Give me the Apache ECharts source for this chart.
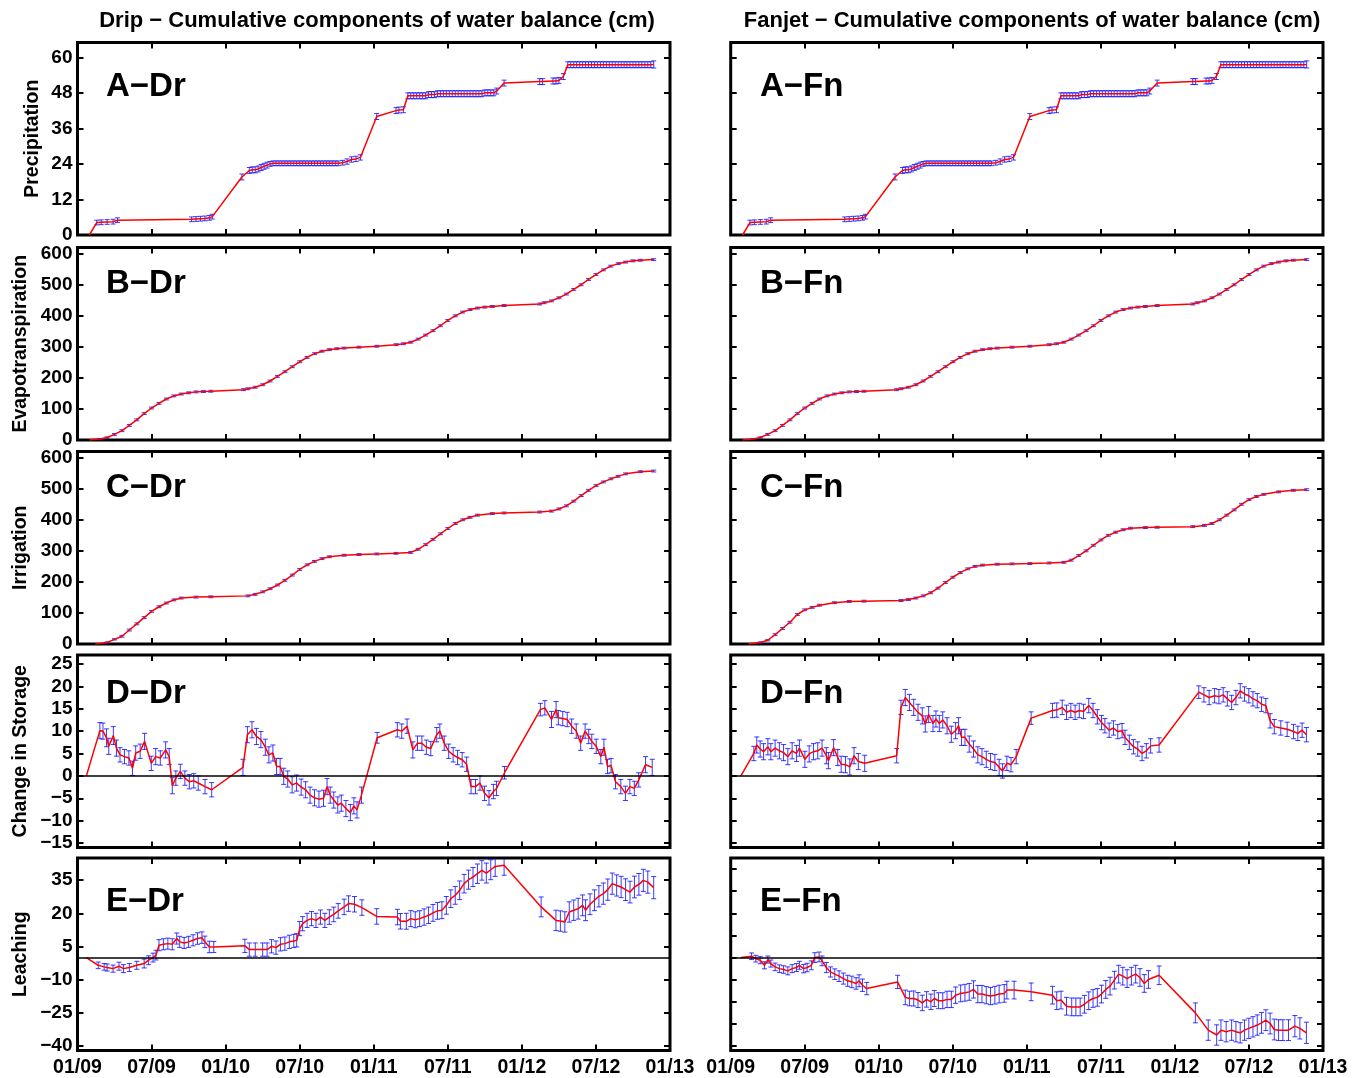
<!DOCTYPE html>
<html>
<head>
<meta charset="utf-8">
<title>Cumulative components of water balance</title>
<script src="https://cdn.jsdelivr.net/npm/echarts@6/dist/echarts.min.js"></script>
<style>
  html, body { margin: 0; padding: 0; background: #fff; }
  #chart { width: 1369px; height: 1078px; }
</style>
</head>
<body>
<div id="chart"></div>
<script>
// ---- Data: [decimal year, cumulative value (cm), standard deviation (cm)] ----

// Precipitation is common to both irrigation systems
const precipitation = [
  [2009.08, 0, 0],
  [2009.13, 4.2, 0.8], [2009.16, 4.3, 0.8], [2009.20, 4.4, 0.8], [2009.24, 4.5, 0.8], [2009.27, 5.0, 0.8],
  [2009.77, 5.3, 0.8], [2009.80, 5.4, 0.8], [2009.83, 5.5, 0.8], [2009.86, 5.6, 0.8], [2009.89, 5.8, 0.8], [2009.91, 6.2, 0.8],
  [2010.11, 19.6, 1.0], [2010.16, 21.8, 1.0], [2010.18, 22.0, 1.0], [2010.20, 22.0, 1.0], [2010.22, 22.3, 1.0],
  [2010.24, 22.8, 1.0], [2010.26, 23.2, 1.0], [2010.28, 23.6, 1.0], [2010.30, 24.0, 0.8],
  [2010.32, 24.2, 0.8], [2010.34, 24.2, 0.8], [2010.36, 24.2, 0.8], [2010.38, 24.2, 0.8], [2010.40, 24.2, 0.8],
  [2010.42, 24.2, 0.8], [2010.44, 24.2, 0.8], [2010.46, 24.2, 0.8], [2010.48, 24.2, 0.8], [2010.50, 24.2, 0.8],
  [2010.52, 24.2, 0.8], [2010.54, 24.2, 0.8], [2010.56, 24.2, 0.8], [2010.58, 24.2, 0.8], [2010.60, 24.2, 0.8],
  [2010.62, 24.2, 0.8], [2010.64, 24.2, 0.8], [2010.66, 24.2, 0.8], [2010.68, 24.2, 0.8], [2010.70, 24.2, 0.8],
  [2010.72, 24.2, 0.8], [2010.74, 24.2, 0.8], [2010.76, 24.2, 0.8],
  [2010.79, 24.4, 0.8], [2010.82, 24.8, 0.9], [2010.85, 25.5, 0.9], [2010.88, 25.7, 0.9], [2010.91, 26.2, 0.9],
  [2011.02, 40.0, 1.0],
  [2011.15, 42.0, 1.0], [2011.17, 42.2, 1.0], [2011.20, 42.3, 1.0],
  [2011.23, 47.0, 1.0], [2011.25, 47.0, 1.0], [2011.27, 47.0, 1.0], [2011.29, 47.0, 1.0], [2011.31, 47.0, 1.0],
  [2011.33, 47.0, 1.0], [2011.35, 47.0, 1.0], [2011.37, 47.4, 1.0], [2011.39, 47.4, 1.0], [2011.41, 47.4, 1.0],
  [2011.43, 47.7, 1.0], [2011.45, 47.7, 1.0], [2011.47, 47.7, 1.0], [2011.49, 47.7, 1.0], [2011.51, 47.7, 1.0],
  [2011.53, 47.7, 1.0], [2011.55, 47.7, 1.0], [2011.57, 47.7, 1.0], [2011.59, 47.7, 1.0], [2011.61, 47.7, 1.0],
  [2011.63, 47.7, 1.0], [2011.65, 47.7, 1.0], [2011.67, 47.7, 1.0], [2011.69, 47.7, 1.0], [2011.71, 47.7, 1.0],
  [2011.73, 47.7, 1.0], [2011.75, 48.0, 1.0], [2011.77, 48.0, 1.0], [2011.79, 48.0, 1.0], [2011.81, 48.0, 1.0],
  [2011.83, 48.6, 1.0], [2011.88, 51.3, 1.0],
  [2012.12, 51.8, 1.0], [2012.14, 51.8, 1.0], [2012.21, 52.0, 1.0], [2012.23, 52.0, 1.0], [2012.25, 52.2, 1.0],
  [2012.28, 53.5, 1.0],
  [2012.31, 57.5, 1.0], [2012.33, 57.5, 1.0], [2012.35, 57.5, 1.0], [2012.37, 57.5, 1.0], [2012.39, 57.5, 1.0],
  [2012.41, 57.5, 1.0], [2012.43, 57.5, 1.0], [2012.45, 57.5, 1.0], [2012.47, 57.5, 1.0], [2012.49, 57.5, 1.0],
  [2012.51, 57.5, 1.0], [2012.53, 57.5, 1.0], [2012.55, 57.5, 1.0], [2012.57, 57.5, 1.0], [2012.59, 57.5, 1.0],
  [2012.61, 57.5, 1.0], [2012.63, 57.5, 1.0], [2012.65, 57.5, 1.0], [2012.67, 57.5, 1.0], [2012.69, 57.5, 1.0],
  [2012.71, 57.5, 1.0], [2012.73, 57.5, 1.0], [2012.75, 57.5, 1.0], [2012.77, 57.5, 1.0], [2012.79, 57.5, 1.0],
  [2012.81, 57.5, 1.0], [2012.83, 57.5, 1.0], [2012.85, 57.5, 1.0], [2012.87, 57.5, 1.0], [2012.89, 57.6, 1.2]
];

// Evapotranspiration is common to both irrigation systems
const evapotranspiration = [
  [2009.08, 0, 0], [2009.15, 3, 2], [2009.20, 8, 2], [2009.25, 18, 3], [2009.30, 30, 3], [2009.35, 47, 3],
  [2009.40, 65, 3], [2009.45, 85, 3], [2009.50, 103, 3], [2009.55, 118, 3], [2009.60, 132, 3], [2009.65, 142, 3],
  [2009.70, 148, 3], [2009.75, 152, 3], [2009.80, 155, 3], [2009.85, 156, 3], [2009.90, 157, 3],
  [2010.12, 162, 3], [2010.15, 165, 3], [2010.20, 170, 3], [2010.25, 178, 3], [2010.30, 190, 3], [2010.35, 205, 3],
  [2010.40, 220, 3], [2010.45, 236, 3], [2010.50, 252, 3], [2010.55, 266, 3], [2010.60, 278, 3], [2010.65, 286, 3],
  [2010.70, 291, 3], [2010.75, 294, 3], [2010.80, 296, 3], [2010.90, 299, 3],
  [2011.02, 302, 3], [2011.15, 307, 3], [2011.20, 310, 3], [2011.25, 315, 3], [2011.30, 325, 3], [2011.35, 338, 3],
  [2011.40, 352, 3], [2011.45, 368, 3], [2011.50, 385, 3], [2011.55, 400, 3], [2011.60, 412, 3], [2011.65, 420, 3],
  [2011.70, 425, 3], [2011.75, 428, 3], [2011.80, 430, 3], [2011.88, 433, 3],
  [2012.12, 438, 3], [2012.15, 442, 3], [2012.20, 448, 3], [2012.25, 458, 3], [2012.30, 470, 3], [2012.35, 485, 3],
  [2012.40, 500, 3], [2012.45, 517, 3], [2012.50, 533, 3], [2012.55, 548, 3], [2012.60, 560, 3], [2012.65, 568, 3],
  [2012.70, 573, 3], [2012.75, 577, 3], [2012.80, 579, 3], [2012.89, 581, 3]
];

const irrigationDrip = [
  [2009.12, 0, 0], [2009.20, 5, 2], [2009.25, 15, 2], [2009.30, 25, 3], [2009.35, 45, 3], [2009.40, 65, 3],
  [2009.45, 85, 3], [2009.50, 105, 3], [2009.55, 120, 3], [2009.60, 132, 3], [2009.65, 142, 3], [2009.70, 148, 3],
  [2009.80, 151, 3], [2009.90, 152, 3],
  [2010.15, 155, 3], [2010.20, 160, 3], [2010.25, 168, 3], [2010.30, 178, 3], [2010.35, 190, 3], [2010.40, 205, 3],
  [2010.45, 222, 3], [2010.50, 240, 3], [2010.55, 255, 3], [2010.60, 266, 3], [2010.65, 275, 3], [2010.70, 281, 3],
  [2010.80, 286, 3], [2010.90, 288, 3],
  [2011.02, 290, 3], [2011.15, 292, 3], [2011.25, 295, 3], [2011.30, 305, 3], [2011.35, 320, 3], [2011.40, 337, 3],
  [2011.45, 355, 3], [2011.50, 372, 3], [2011.55, 388, 3], [2011.60, 400, 3], [2011.65, 408, 3], [2011.70, 415, 3],
  [2011.80, 420, 3], [2011.88, 422, 3],
  [2012.12, 425, 3], [2012.20, 428, 3], [2012.25, 435, 3], [2012.30, 445, 3], [2012.35, 460, 3], [2012.40, 478, 3],
  [2012.45, 495, 3], [2012.50, 510, 3], [2012.55, 522, 3], [2012.60, 532, 3], [2012.65, 540, 3], [2012.70, 548, 3],
  [2012.80, 555, 3], [2012.89, 557, 3]
];

const irrigationFanjet = [
  [2009.12, 0, 0], [2009.20, 5, 2], [2009.25, 12, 2], [2009.30, 30, 3], [2009.35, 50, 3], [2009.40, 70, 3],
  [2009.45, 95, 3], [2009.50, 110, 3], [2009.55, 118, 3], [2009.60, 125, 3], [2009.70, 133, 3], [2009.80, 137, 3],
  [2009.90, 138, 3],
  [2010.15, 140, 3], [2010.20, 143, 3], [2010.25, 148, 3], [2010.30, 155, 3], [2010.35, 165, 3], [2010.40, 180, 3],
  [2010.45, 198, 3], [2010.50, 215, 3], [2010.55, 230, 3], [2010.60, 242, 3], [2010.65, 250, 3], [2010.70, 254, 3],
  [2010.80, 257, 3], [2010.90, 258, 3],
  [2011.02, 259, 3], [2011.15, 261, 3], [2011.25, 263, 3], [2011.30, 270, 3], [2011.35, 285, 3], [2011.40, 300, 3],
  [2011.45, 318, 3], [2011.50, 335, 3], [2011.55, 350, 3], [2011.60, 360, 3], [2011.65, 368, 3], [2011.70, 373, 3],
  [2011.80, 375, 3], [2011.88, 376, 3],
  [2012.12, 378, 3], [2012.20, 382, 3], [2012.25, 388, 3], [2012.30, 400, 3], [2012.35, 415, 3], [2012.40, 432, 3],
  [2012.45, 450, 3], [2012.50, 465, 3], [2012.55, 475, 3], [2012.60, 482, 3], [2012.70, 490, 3], [2012.80, 495, 3],
  [2012.89, 497, 3]
];

const storageDrip = [
  [2009.06, 0, 0],
  [2009.151, 10.1, 1.8], [2009.172, 10.0, 1.8], [2009.196, 8.5, 2.0], [2009.211, 6.6, 1.8], [2009.242, 9.0, 2.0],
  [2009.263, 6.2, 1.8], [2009.287, 4.7, 1.6], [2009.317, 4.3, 1.6], [2009.347, 4.0, 1.6], [2009.371, 1.7, 1.6],
  [2009.393, 5.1, 1.6], [2009.423, 5.5, 1.6], [2009.453, 7.7, 1.8], [2009.498, 2.8, 1.6], [2009.528, 4.3, 1.8],
  [2009.559, 4.0, 1.6], [2009.595, 5.8, 1.8], [2009.619, 4.3, 1.8], [2009.640, -2.2, 1.8], [2009.664, -0.5, 1.6],
  [2009.694, 1.0, 1.6], [2009.725, -0.5, 1.6], [2009.755, -1.3, 1.6], [2009.785, -1.1, 1.6], [2009.815, -1.6, 1.6],
  [2009.861, -2.4, 1.6], [2009.906, -3.1, 1.6],
  [2010.117, 1.9, 1.8], [2010.147, 9.2, 1.8], [2010.178, 10.3, 1.8], [2010.208, 8.8, 1.8], [2010.238, 8.1, 1.8],
  [2010.268, 6.4, 1.8], [2010.292, 4.7, 1.8], [2010.319, 5.1, 1.8], [2010.344, 2.1, 1.8], [2010.368, 2.1, 1.8],
  [2010.392, -0.1, 1.8], [2010.419, -0.7, 1.8], [2010.449, -2.0, 1.8], [2010.479, -1.6, 1.8], [2010.510, -2.5, 1.8],
  [2010.540, -3.1, 1.8], [2010.570, -4.3, 1.8], [2010.600, -4.9, 1.8], [2010.630, -5.2, 1.8], [2010.661, -5.0, 1.8],
  [2010.685, -2.4, 1.8], [2010.706, -4.3, 1.8], [2010.730, -5.4, 1.8], [2010.757, -6.5, 1.8], [2010.781, -6.1, 1.8],
  [2010.812, -7.3, 1.8], [2010.842, -8.2, 1.8], [2010.866, -6.7, 1.8], [2010.887, -7.6, 1.8], [2010.917, -4.3, 1.8],
  [2011.023, 8.5, 1.2],
  [2011.159, 10.3, 1.6], [2011.189, 10.0, 1.6], [2011.225, 11.1, 1.6], [2011.264, 5.8, 1.8], [2011.295, 7.3, 1.6],
  [2011.325, 7.3, 1.6], [2011.355, 6.4, 1.6], [2011.385, 6.1, 1.6], [2011.425, 9.2, 1.6], [2011.446, 10.0, 1.6],
  [2011.476, 7.3, 1.6], [2011.506, 5.5, 1.6], [2011.536, 4.7, 1.6], [2011.566, 4.1, 1.6], [2011.597, 3.6, 1.6],
  [2011.627, 2.6, 1.6], [2011.657, -2.4, 1.6], [2011.687, -2.4, 1.6], [2011.717, -1.6, 1.6], [2011.748, -3.9, 1.6],
  [2011.778, -4.9, 1.6], [2011.808, -3.5, 1.6], [2011.829, -2.8, 1.6], [2011.883, 0.7, 1.4],
  [2012.125, 14.8, 1.4], [2012.155, 15.2, 1.6], [2012.200, 12.6, 1.8], [2012.231, 14.8, 1.8], [2012.246, 13.0, 1.6],
  [2012.276, 12.8, 1.6], [2012.306, 12.6, 1.6], [2012.336, 11.1, 1.6], [2012.367, 10.0, 1.6], [2012.397, 7.3, 1.6],
  [2012.427, 10.0, 1.6], [2012.451, 8.8, 1.6], [2012.472, 7.7, 1.6], [2012.502, 6.6, 1.6], [2012.533, 4.3, 1.6],
  [2012.554, 6.4, 1.8], [2012.578, 2.1, 1.6], [2012.602, 2.3, 1.6], [2012.632, -1.3, 1.6], [2012.668, -2.4, 1.6],
  [2012.699, -3.9, 1.6], [2012.729, -2.4, 1.6], [2012.759, -2.8, 1.6], [2012.789, -0.9, 1.6], [2012.835, 2.5, 1.8],
  [2012.880, 1.9, 1.8]
];

const storageFanjet = [
  [2009.069, 0, 0],
  [2009.156, 5.0, 1.6], [2009.176, 6.9, 1.8], [2009.199, 6.0, 1.8], [2009.222, 5.4, 1.8], [2009.251, 6.5, 1.8],
  [2009.271, 5.4, 1.8], [2009.300, 6.2, 1.8], [2009.329, 5.6, 1.8], [2009.357, 5.2, 1.8], [2009.386, 4.3, 1.8],
  [2009.415, 5.6, 1.8], [2009.444, 5.0, 1.8], [2009.464, 6.2, 1.8], [2009.501, 3.7, 1.8], [2009.530, 4.9, 1.8],
  [2009.559, 5.4, 1.8], [2009.588, 5.6, 1.8], [2009.617, 6.2, 1.8], [2009.646, 4.5, 1.8], [2009.660, 3.4, 1.8],
  [2009.695, 6.3, 1.8], [2009.723, 4.1, 1.8], [2009.746, 2.6, 1.8], [2009.775, 2.5, 1.8], [2009.804, 2.0, 1.8],
  [2009.833, 4.5, 1.8], [2009.862, 3.2, 1.8], [2009.905, 2.8, 1.8],
  [2010.121, 4.5, 1.6], [2010.150, 15.3, 1.6], [2010.179, 17.5, 1.8], [2010.207, 16.4, 1.8], [2010.236, 15.3, 1.8],
  [2010.265, 14.2, 1.8], [2010.294, 13.4, 1.8], [2010.314, 11.6, 1.8], [2010.337, 13.7, 1.8], [2010.366, 11.7, 1.8],
  [2010.386, 12.7, 1.8], [2010.409, 11.7, 1.8], [2010.432, 12.5, 1.8], [2010.461, 11.2, 1.8], [2010.490, 9.3, 1.8],
  [2010.519, 10.1, 1.8], [2010.539, 11.2, 1.8], [2010.559, 8.6, 1.8], [2010.582, 8.6, 1.8], [2010.611, 7.1, 1.8],
  [2010.640, 6.0, 1.8], [2010.669, 4.7, 1.8], [2010.697, 4.3, 1.8], [2010.726, 3.7, 1.8], [2010.755, 3.2, 1.8],
  [2010.784, 3.0, 1.8], [2010.813, 1.9, 1.8], [2010.836, 1.1, 1.6], [2010.865, 2.8, 1.6], [2010.893, 2.5, 1.6],
  [2010.928, 4.3, 1.6],
  [2011.029, 12.9, 1.4],
  [2011.173, 14.6, 1.6], [2011.202, 14.7, 1.6], [2011.239, 15.3, 1.6], [2011.268, 14.2, 1.6], [2011.297, 14.6, 1.6],
  [2011.326, 14.2, 1.6], [2011.354, 14.6, 1.6], [2011.383, 14.4, 1.6], [2011.418, 15.7, 1.6], [2011.447, 14.6, 1.6],
  [2011.476, 13.2, 1.6], [2011.504, 11.9, 1.6], [2011.527, 11.2, 1.6], [2011.556, 10.2, 1.6], [2011.585, 10.7, 1.6],
  [2011.614, 9.9, 1.6], [2011.643, 10.1, 1.6], [2011.663, 8.6, 1.6], [2011.692, 7.5, 1.6], [2011.720, 6.5, 1.6],
  [2011.749, 6.0, 1.6], [2011.778, 5.0, 1.6], [2011.807, 5.6, 1.6], [2011.836, 6.7, 1.6], [2011.893, 6.9, 1.6],
  [2012.161, 18.7, 1.4], [2012.196, 18.1, 1.6], [2012.231, 17.5, 1.6], [2012.268, 17.9, 1.6], [2012.297, 17.7, 1.6],
  [2012.326, 18.1, 1.6], [2012.354, 17.2, 1.6], [2012.383, 16.4, 1.6], [2012.412, 17.5, 1.6], [2012.441, 19.0, 1.6],
  [2012.470, 18.3, 1.6], [2012.499, 17.9, 1.6], [2012.527, 17.2, 1.6], [2012.556, 16.8, 1.6], [2012.585, 16.0, 1.6],
  [2012.614, 15.7, 1.6], [2012.643, 12.3, 1.6], [2012.671, 11.0, 1.6], [2012.715, 10.7, 1.6], [2012.758, 10.4, 1.6],
  [2012.801, 9.9, 1.6], [2012.830, 9.5, 1.6], [2012.859, 10.2, 1.6], [2012.888, 9.2, 1.6]
];

const leachingDrip = [
  [2009.06, 0, 0],
  [2009.14, -3.5, 1.5], [2009.18, -4.2, 1.5], [2009.20, -4.5, 1.6], [2009.24, -5.0, 1.6], [2009.28, -3.9, 1.8],
  [2009.31, -5.0, 1.8], [2009.35, -4.5, 1.8], [2009.40, -3.5, 1.8], [2009.45, -2.7, 2.0], [2009.48, -1.2, 2.0],
  [2009.51, 0, 2.0], [2009.53, 1.1, 2.2], [2009.55, 5.6, 2.5], [2009.58, 6.0, 2.5], [2009.61, 6.3, 2.5],
  [2009.64, 6.0, 2.5], [2009.67, 8.6, 2.5], [2009.69, 7.1, 2.5], [2009.72, 6.6, 2.5], [2009.75, 7.1, 2.5],
  [2009.78, 7.8, 2.5], [2009.81, 8.6, 2.6], [2009.84, 9.0, 2.6], [2009.86, 7.1, 2.6], [2009.89, 4.8, 2.6],
  [2009.92, 4.8, 2.5],
  [2010.13, 5.3, 3.0], [2010.16, 3.6, 3.0], [2010.20, 3.6, 3.0], [2010.25, 3.6, 3.0], [2010.28, 3.6, 3.0],
  [2010.31, 5.1, 3.0], [2010.34, 4.5, 3.0], [2010.37, 6.0, 3.0], [2010.40, 6.3, 3.0], [2010.43, 7.1, 3.0],
  [2010.46, 7.5, 3.0], [2010.48, 7.8, 3.0], [2010.50, 13.1, 3.2], [2010.52, 15.3, 3.2], [2010.55, 16.8, 3.2],
  [2010.58, 17.6, 3.2], [2010.61, 16.8, 3.2], [2010.64, 18.3, 3.2], [2010.67, 16.8, 3.2], [2010.70, 18.3, 3.3],
  [2010.73, 19.5, 3.3], [2010.76, 21.1, 3.3], [2010.80, 22.9, 3.5], [2010.83, 24.4, 3.5], [2010.87, 24.1, 3.5],
  [2010.92, 22.6, 3.5],
  [2011.02, 18.6, 3.5],
  [2011.16, 18.3, 3.5], [2011.18, 16.4, 3.5], [2011.22, 16.4, 3.6], [2011.25, 17.6, 3.6], [2011.28, 17.1, 3.6],
  [2011.31, 17.6, 3.6], [2011.34, 18.3, 3.7], [2011.37, 19.1, 3.7], [2011.40, 20.2, 3.8], [2011.43, 21.1, 3.8],
  [2011.46, 21.4, 3.8], [2011.49, 23.6, 4.0], [2011.52, 26.6, 4.0], [2011.55, 28.1, 4.0], [2011.58, 30.4, 4.2],
  [2011.61, 33.4, 4.2], [2011.64, 35.2, 4.3], [2011.67, 36.4, 4.3], [2011.70, 37.9, 4.4], [2011.73, 39.4, 4.4],
  [2011.76, 38.2, 4.5], [2011.79, 39.7, 4.5], [2011.82, 41.2, 4.5], [2011.88, 41.7, 4.5],
  [2012.13, 22.9, 4.5], [2012.23, 16.8, 4.6], [2012.26, 16.5, 4.6], [2012.29, 16.1, 4.6], [2012.32, 20.6, 4.6],
  [2012.35, 21.4, 4.6], [2012.38, 22.1, 4.7], [2012.41, 23.6, 4.7], [2012.43, 21.4, 4.7], [2012.46, 24.1, 4.7],
  [2012.49, 25.9, 4.7], [2012.52, 27.7, 4.8], [2012.55, 28.9, 4.8], [2012.58, 30.7, 4.8], [2012.61, 33.4, 4.8],
  [2012.64, 32.6, 4.8], [2012.67, 31.9, 4.8], [2012.70, 30.7, 4.9], [2012.73, 29.6, 4.9], [2012.76, 31.9, 4.9],
  [2012.79, 33.1, 4.9], [2012.82, 34.9, 5.0], [2012.85, 34.1, 5.0], [2012.89, 31.6, 5.0]
];

const leachingFanjet = [
  [2009.07, 0, 0],
  [2009.141, 0.6, 1.5], [2009.170, -0.5, 1.5], [2009.199, -1.2, 1.6], [2009.228, -3.5, 1.6], [2009.251, -0.9, 1.6],
  [2009.271, -2.7, 1.6], [2009.300, -4.2, 1.7], [2009.329, -5.0, 1.7], [2009.357, -5.4, 1.7], [2009.386, -6.0, 1.8],
  [2009.415, -5.0, 1.8], [2009.444, -4.5, 1.8], [2009.464, -3.5, 1.8], [2009.493, -5.0, 1.9], [2009.516, -4.5, 1.9],
  [2009.545, -3.5, 2.0], [2009.568, 0, 2.2], [2009.597, 0.3, 2.2], [2009.617, -1.5, 2.2], [2009.646, -4.5, 2.3],
  [2009.674, -6.5, 2.3], [2009.703, -7.5, 2.4], [2009.732, -8.4, 2.4], [2009.761, -9.5, 2.5], [2009.790, -10.5, 2.5],
  [2009.818, -11.0, 2.6], [2009.847, -11.7, 2.6], [2009.867, -10.5, 2.7], [2009.890, -12.5, 2.8], [2009.919, -14.0, 2.8],
  [2010.127, -11.0, 3.0], [2010.179, -18.0, 3.3], [2010.207, -18.5, 3.3], [2010.236, -18.5, 3.4], [2010.265, -19.2, 3.4],
  [2010.294, -20.5, 3.5], [2010.323, -18.9, 3.5], [2010.352, -20.0, 3.5], [2010.375, -18.5, 3.6], [2010.403, -19.5, 3.6],
  [2010.432, -19.5, 3.6], [2010.461, -18.9, 3.7], [2010.490, -18.9, 3.7], [2010.519, -17.0, 3.7], [2010.553, -16.2, 3.8],
  [2010.582, -15.9, 3.8], [2010.611, -15.5, 3.8], [2010.640, -14.4, 3.9], [2010.669, -16.5, 3.9], [2010.697, -16.5, 3.9],
  [2010.726, -17.0, 3.9], [2010.755, -17.4, 3.9], [2010.784, -17.0, 4.0], [2010.813, -16.5, 4.0], [2010.847, -16.2, 4.0],
  [2010.865, -14.7, 4.0], [2010.914, -14.7, 4.0],
  [2011.029, -15.5, 4.0],
  [2011.173, -17.0, 4.0], [2011.202, -19.5, 4.0], [2011.231, -19.2, 4.0], [2011.268, -22.0, 4.0], [2011.303, -22.3, 4.0],
  [2011.331, -22.3, 4.0], [2011.360, -22.3, 4.0], [2011.389, -21.1, 4.0], [2011.418, -19.5, 4.0], [2011.447, -18.5, 4.0],
  [2011.476, -18.0, 4.0], [2011.504, -16.5, 4.0], [2011.533, -14.4, 4.0], [2011.562, -12.9, 4.0], [2011.591, -10.2, 4.0],
  [2011.620, -7.5, 4.0], [2011.648, -8.4, 4.0], [2011.677, -9.5, 4.0], [2011.706, -8.4, 4.0], [2011.735, -7.5, 4.0],
  [2011.764, -9.0, 4.0], [2011.793, -11.7, 4.0], [2011.821, -9.9, 4.0], [2011.893, -8.0, 4.2],
  [2012.138, -25.0, 4.5], [2012.225, -32.8, 4.6], [2012.282, -35.0, 4.6], [2012.311, -32.8, 4.6], [2012.346, -33.5, 4.6],
  [2012.383, -32.8, 4.6], [2012.412, -33.5, 4.6], [2012.441, -34.0, 4.6], [2012.470, -32.8, 4.6], [2012.499, -32.0, 4.6],
  [2012.527, -31.3, 4.6], [2012.556, -30.5, 4.6], [2012.585, -29.5, 4.7], [2012.614, -28.3, 4.7], [2012.643, -29.8, 4.7],
  [2012.671, -32.5, 4.7], [2012.700, -32.8, 4.7], [2012.729, -32.8, 4.7], [2012.767, -32.8, 4.7], [2012.810, -31.0, 4.8],
  [2012.844, -32.0, 4.8], [2012.888, -34.0, 4.8]
];

// ---- Axis ticks ----
const precipTicks = [0, 12, 24, 36, 48, 60];
const cumulativeTicks = [0, 100, 200, 300, 400, 500, 600];
const storageTicks = [-15, -10, -5, 0, 5, 10, 15, 20, 25];
const leachingTicks = [-40, -25, -10, 5, 20, 35];
const leachingFanjetTicks = [-40, -30, -20, -10, 0, 10, 20, 30, 40];

const columnTitles = ['Drip \u2212 Cumulative components of water balance (cm)',
                      'Fanjet \u2212 Cumulative components of water balance (cm)'];
const columnTags = ['Dr', 'Fn'];

const rows = [
  { name: 'Precipitation', tag: 'A', min: 0, max: 65, ticks: [precipTicks, precipTicks],
    data: [precipitation, precipitation], nameGap: 35, labelY: 88 },
  { name: 'Evapotranspiration', tag: 'B', min: 0, max: 620, ticks: [cumulativeTicks, cumulativeTicks],
    data: [evapotranspiration, evapotranspiration], nameGap: 47, labelY: 285 },
  { name: 'Irrigation', tag: 'C', min: 0, max: 620, ticks: [cumulativeTicks, cumulativeTicks],
    data: [irrigationDrip, irrigationFanjet], nameGap: 47, labelY: 489 },
  { name: 'Change in Storage', tag: 'D', min: -16, max: 27, ticks: [storageTicks, storageTicks],
    data: [storageDrip, storageFanjet], nameGap: 47, labelY: 695, zeroLine: true },
  { name: 'Leaching', tag: 'E', min: -42, max: 45, ticks: [leachingTicks, leachingFanjetTicks],
    data: [leachingDrip, leachingFanjet], nameGap: 47, labelY: 903, zeroLine: true }
];

// ---- Layout ----
const COLUMNS = [{ left: 77.5, width: 592.5, center: 372, labelX: 106 },
                 { left: 730.7, width: 592.3, center: 1027, labelX: 760 }];
const ROW_TOPS = [42.5, 247.5, 451.5, 655, 858];
const ROW_HEIGHT = 192.5;
const FONT = '"Liberation Sans", Arial, Helvetica, sans-serif';

function monthLabel(v) {
  const year = Math.floor(v + 1e-6);
  const month = (v - year) > 0.25 ? '07' : '01';
  return month + '/' + String(year % 100).padStart(2, '0');
}

function signedLabel(v) {
  return String(v).replace('-', '\u2212');
}

function renderErrorBar(params, api) {
  const sd = api.value(2);
  if (!sd) return null;
  const t = api.value(0), v = api.value(1);
  const hi = api.coord([t, v + sd]);
  const lo = api.coord([t, v - sd]);
  const cap = 2.5;
  const style = { stroke: 'rgba(10,10,255,0.8)', lineWidth: 1, fill: null };
  return {
    type: 'group',
    children: [
      { type: 'line', shape: { x1: hi[0], y1: hi[1], x2: lo[0], y2: lo[1] }, style },
      { type: 'line', shape: { x1: hi[0] - cap, y1: hi[1], x2: hi[0] + cap, y2: hi[1] }, style },
      { type: 'line', shape: { x1: lo[0] - cap, y1: lo[1], x2: lo[0] + cap, y2: lo[1] }, style }
    ]
  };
}

const grid = [], xAxis = [], yAxis = [], series = [], graphic = [];
const tickStyle = { show: true, inside: true, length: 6, lineStyle: { color: '#000', width: 2 } };
const labelFont = { fontFamily: FONT, fontWeight: 'bold', fontSize: 19, color: '#000' };

rows.forEach((row, r) => {
  COLUMNS.forEach((col, c) => {
    const g = grid.length;
    const ticks = row.ticks[c];
    grid.push({
      left: col.left, top: ROW_TOPS[r], width: col.width, height: ROW_HEIGHT,
      show: true, borderColor: '#000', borderWidth: 3, backgroundColor: '#fff', containLabel: false
    });
    ['bottom', 'top'].forEach(pos => {
      xAxis.push({
        type: 'value', gridIndex: g, position: pos, min: 2009, max: 2013, interval: 0.5,
        axisLine: { show: false, onZero: false },
        axisTick: tickStyle,
        splitLine: { show: false },
        axisLabel: Object.assign({ show: pos === 'bottom' && r === rows.length - 1, margin: 7, formatter: monthLabel,
                                   showMinLabel: true, showMaxLabel: true }, labelFont, { fontSize: 19.5 })
      });
    });
    ['left', 'right'].forEach(pos => {
      yAxis.push({
        type: 'value', gridIndex: g, position: pos, min: row.min, max: row.max,
        axisLine: { show: false, onZero: false },
        axisTick: Object.assign({ customValues: ticks }, tickStyle),
        splitLine: { show: false },
        axisLabel: Object.assign({ show: pos === 'left' && c === 0, margin: 5, customValues: ticks,
                                   formatter: signedLabel }, labelFont),
        name: (pos === 'left' && c === 0) ? row.name : '',
        nameLocation: 'middle', nameGap: row.nameGap,
        nameTextStyle: { fontFamily: FONT, fontWeight: 'bold', fontSize: 19.5, color: '#000' }
      });
    });
    const xi = 2 * g, yi = 2 * g;
    series.push({
      type: 'custom', name: row.name + ' sd', xAxisIndex: xi, yAxisIndex: yi,
      data: row.data[c], encode: { x: 0, y: 1 }, renderItem: renderErrorBar, clip: true, z: 2, silent: true
    });
    const line = {
      type: 'line', name: row.name, xAxisIndex: xi, yAxisIndex: yi,
      data: row.data[c], encode: { x: 0, y: 1 }, showSymbol: false, clip: true, z: 3, silent: true,
      lineStyle: { color: '#ff0000', width: 1.5 }, itemStyle: { color: '#ff0000' }
    };
    if (row.zeroLine) {
      line.markLine = {
        silent: true, symbol: 'none', label: { show: false }, animation: false,
        lineStyle: { color: '#000', width: 1.5, type: 'solid' },
        data: [{ yAxis: 0 }]
      };
    }
    series.push(line);
    graphic.push({
      type: 'text', left: col.labelX, top: row.labelY - 18, z: 10,
      style: { text: row.tag + '\u2212' + columnTags[c], font: 'bold 33px ' + FONT, fill: '#000' }
    });
  });
});

const chart = echarts.init(document.getElementById('chart'), null, { renderer: 'canvas' });
chart.setOption({
  backgroundColor: '#fff',
  animation: false,
  title: COLUMNS.map((col, c) => ({
    text: columnTitles[c], left: col.center, top: 5, textAlign: 'center',
    textStyle: { fontFamily: FONT, fontWeight: 'bold', fontSize: 22, color: '#000' }
  })),
  grid, xAxis, yAxis, series, graphic
});
</script>
</body>
</html>
